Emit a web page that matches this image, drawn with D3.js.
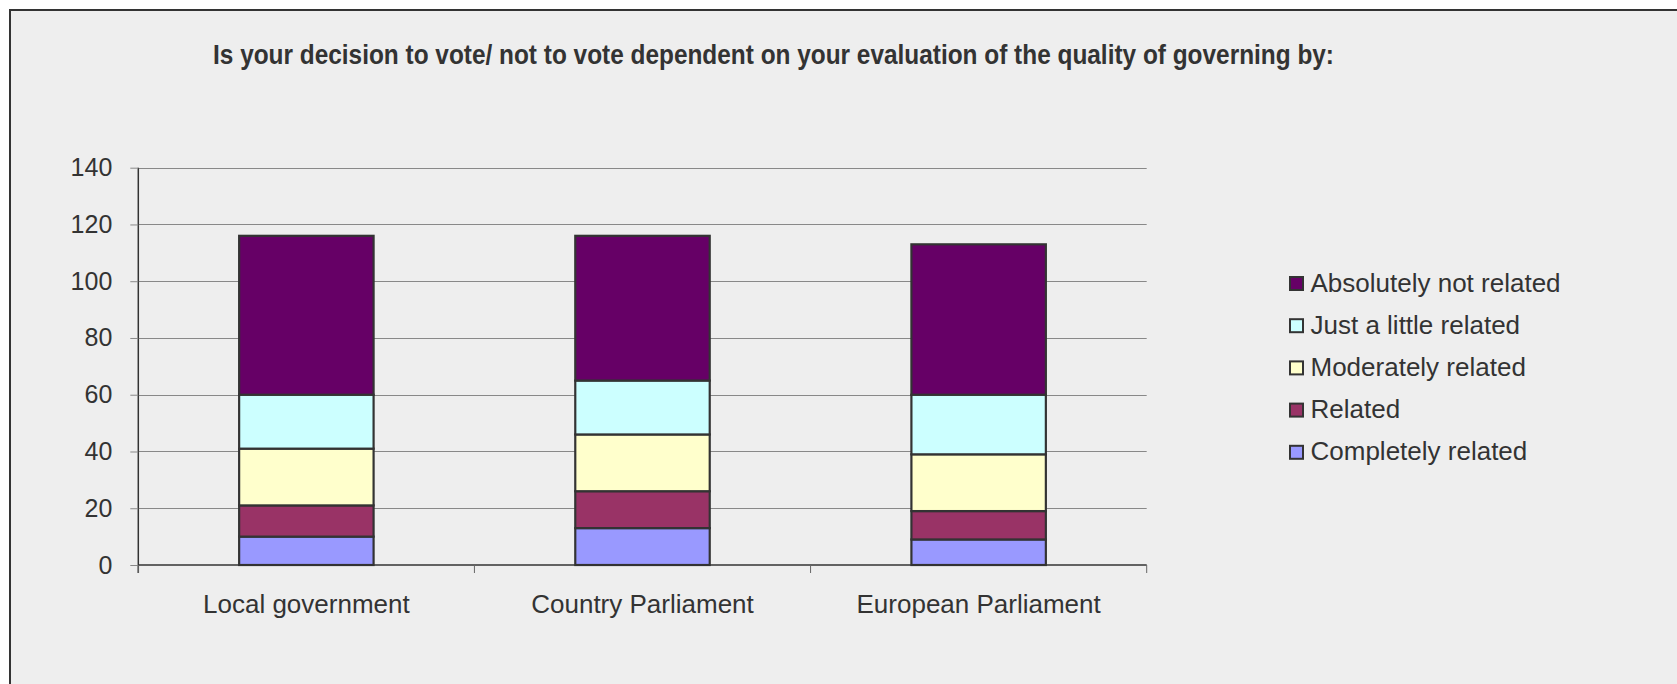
<!DOCTYPE html>
<html>
<head>
<meta charset="utf-8">
<script src="https://cdn.jsdelivr.net/npm/d3@7"></script>
<style>
html,body{margin:0;padding:0;background:#ffffff;}
svg{display:block;}
</style>
</head>
<body>
<svg id="chart" width="1677" height="684"></svg>
<script>
const categories = ["Local government", "Country Parliament", "European Parliament"];
const seriesNames = ["Completely related", "Related", "Moderately related", "Just a little related", "Absolutely not related"];
const completelyRelated = [10, 13, 9];
const related = [11, 13, 10];
const moderatelyRelated = [20, 20, 20];
const justALittleRelated = [19, 19, 21];
const absolutelyNotRelated = [56, 51, 53];
const seriesColors = ["#9999FF", "#993366", "#FFFFCC", "#CCFFFF", "#660066"];
const yTicks = [0, 20, 40, 60, 80, 100, 120, 140];
const titleText = "Is your decision to vote/ not to vote dependent on your evaluation of the quality of governing by:";

(function () {
const seriesValues = [completelyRelated, related, moderatelyRelated, justALittleRelated, absolutelyNotRelated];
const table = categories.map((c, i) => {
  const row = {category: c};
  seriesNames.forEach((s, k) => row[s] = seriesValues[k][i]);
  return row;
});

const svg = d3.select("#chart");
const font = "'Liberation Sans', Arial, sans-serif";

// outer panel
svg.append("rect").attr("x", 10).attr("y", 10).attr("width", 1700).attr("height", 700)
  .attr("fill", "#EEEEEE").attr("stroke", "#333333").attr("stroke-width", 2);

// title
svg.append("text").attr("x", 213).attr("y", 63.5)
  .attr("font-family", "'Liberation Sans Narrow', 'Liberation Sans', Arial, sans-serif")
  .attr("font-weight", "bold").attr("font-size", 28).attr("fill", "#333333")
  .attr("textLength", 1121).attr("lengthAdjust", "spacingAndGlyphs")
  .text(titleText);

const pL = 138.3, pR = 1146.7, pT = 167.7, pB = 565;
const x = d3.scaleBand().domain(categories).range([pL, pR]).padding(0);
const y = d3.scaleLinear().domain([0, 140]).range([pB, pT]);

// gridlines
svg.append("g").selectAll("line").data(yTicks.filter(t => t > 0)).join("line")
  .attr("x1", pL).attr("x2", pR)
  .attr("y1", d => Math.round(y(d)) + 0.5).attr("y2", d => Math.round(y(d)) + 0.5)
  .attr("stroke", "#888888").attr("stroke-width", 1);

// y axis
const yAxis = svg.append("g").attr("transform", `translate(${pL},0)`)
  .call(d3.axisLeft(y).tickValues(yTicks).tickSize(8).tickPadding(18));
yAxis.select(".domain").attr("stroke", "#333333").attr("stroke-width", 1.5)
  .attr("d", `M0,${pT}V${pB + 8}`);
yAxis.selectAll(".tick line").attr("stroke", "#888888");
yAxis.selectAll(".tick text").attr("font-family", font).attr("font-size", 25).attr("fill", "#333333");

// stacked bars
const stack = d3.stack().keys(seriesNames)(table);
const barW = x.bandwidth() * 0.4;

const layers = svg.append("g").selectAll("g").data(stack).join("g")
  .attr("fill", (d, i) => seriesColors[i]);
layers.selectAll("rect").data(d => d).join("rect")
  .attr("x", d => x(d.data.category) + (x.bandwidth() - barW) / 2)
  .attr("width", barW)
  .attr("y", d => y(d[1]))
  .attr("height", d => y(d[0]) - y(d[1]))
  .attr("stroke", "#333333").attr("stroke-width", 2.2);

// x axis
const xAxis = svg.append("g").attr("transform", `translate(0,${pB})`)
  .call(d3.axisBottom(x).tickSize(0).tickPadding(30));
xAxis.select(".domain").attr("stroke", "#333333").attr("stroke-width", 1.5)
  .attr("d", `M${pL},0H${pR}`);
xAxis.selectAll(".tick text").attr("font-family", font).attr("font-size", 26).attr("fill", "#333333");
const bounds = categories.map(c => x(c)).concat([x(categories[categories.length - 1]) + x.bandwidth()]);
xAxis.append("g").selectAll("line").data(bounds).join("line")
  .attr("x1", d => d).attr("x2", d => d).attr("y1", 0).attr("y2", 8)
  .attr("stroke", "#666666").attr("stroke-width", 1);

// legend
const legendOrder = seriesNames.map((s, i) => i).reverse();
const lg = svg.append("g");
const items = lg.selectAll("g").data(legendOrder).join("g")
  .attr("transform", (d, i) => `translate(1289,${276 + i * 42.2})`);
items.append("rect").attr("x", 1).attr("y", 1).attr("width", 13).attr("height", 13)
  .attr("fill", d => seriesColors[d]).attr("stroke", "#333333").attr("stroke-width", 2);
items.append("text").attr("x", 21.5).attr("y", 15.5)
  .attr("font-family", font).attr("font-size", 26).attr("fill", "#333333")
  .text(d => seriesNames[d]);
})();
</script>
</body>
</html>
